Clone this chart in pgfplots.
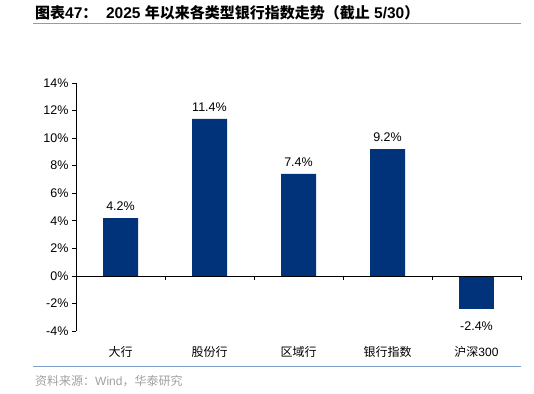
\documentclass[border=0pt]{standalone}
\usepackage{pgfplots}
\pgfplotsset{compat=1.18}
\usepackage{fontspec}
\setmainfont{Liberation Sans}
\newfontfamily\cjk{Noto Sans CJK SC}
\definecolor{barblue}{RGB}{0,51,122}
\definecolor{lineblue}{RGB}{125,160,205}
\definecolor{srcgray}{RGB}{160,160,160}
\begin{document}
\begin{tikzpicture}
\useasboundingbox (0,0) rectangle (534pt,-393pt);
\node[anchor=base west, inner sep=0, font=\fontsize{15.5}{18}\selectfont\bfseries] at (35pt,-19pt) {{\cjk\fontsize{15}{18}\selectfont 图表}47{\cjk\fontsize{15}{18}\selectfont ：}\ \ 2025 {\cjk\fontsize{15}{18}\selectfont 年以来各类型银行指数走势（截止} 5/30{\cjk\fontsize{15}{18}\selectfont ）}};
\draw[lineblue, line width=1pt] (33pt,-24pt) -- (521pt,-24pt);
\draw[lineblue, line width=1pt] (33pt,-366pt) -- (521pt,-366pt);
\node[anchor=base west, inner sep=0, font=\fontsize{12}{14}\selectfont, text=srcgray] at (35pt,-385pt) {{\cjk 资料来源：}Wind{\cjk ，华泰研究}};
\begin{axis}[
  at={(76pt,-331pt)}, anchor=south west, scale only axis,
  width=445pt, height=248pt,
  xmin=-0.5, xmax=4.5, ymin=-4, ymax=14,
  axis line style={draw=none},
  ytick={-4,-2,0,2,4,6,8,10,12,14},
  yticklabels={-4\%,-2\%,0\%,2\%,4\%,6\%,8\%,10\%,12\%,14\%},
  ytick pos=left, tick align=outside, major tick length=4pt,
  ytick style={black, line width=0.6pt},
  xtick={0,1,2,3,4},
  xticklabels={{\cjk 大行},{\cjk 股份行},{\cjk 区域行},{\cjk 银行指数},{\cjk 沪深}300},
  xtick pos=bottom, xtick style={draw=none},
  xticklabel style={font=\fontsize{12}{14}\selectfont, yshift=-8pt},
  yticklabel style={font=\fontsize{12.5}{14}\selectfont},
  /pgf/number format/assume math mode=true,
  clip=false,
]
\addplot[ybar, bar width=35pt, fill=barblue, draw=none,
  nodes near coords={\pgfmathprintnumber[fixed,fixed zerofill,precision=1]{\pgfplotspointmeta}\%},
  nodes near coords align=vertical,
  every node near coord/.append style={font=\fontsize{12.5}{14}\selectfont, black, inner sep=7pt}]
  coordinates {(0,4.2) (1,11.4) (2,7.4) (3,9.2)};
\addplot[ybar, bar width=35pt, fill=barblue, draw=none,
  nodes near coords={\pgfmathprintnumber[fixed,fixed zerofill,precision=1]{\pgfplotspointmeta}\%},
  nodes near coords align=vertical,
  every node near coord/.append style={font=\fontsize{12.5}{14}\selectfont, black, inner sep=7pt, yshift=-6pt}]
  coordinates {(4,-2.4)};
\draw[black, line width=0.6pt] (rel axis cs:0,0) -- (rel axis cs:0,1);
\draw[black, line width=0.6pt] (axis cs:-0.5,0) -- (axis cs:4.5,0);
\draw[black, line width=0.6pt] (axis cs:0.5,0) -- ([yshift=-4pt]axis cs:0.5,0);
\draw[black, line width=0.6pt] (axis cs:1.5,0) -- ([yshift=-4pt]axis cs:1.5,0);
\draw[black, line width=0.6pt] (axis cs:2.5,0) -- ([yshift=-4pt]axis cs:2.5,0);
\draw[black, line width=0.6pt] (axis cs:3.5,0) -- ([yshift=-4pt]axis cs:3.5,0);
\draw[black, line width=0.6pt] (axis cs:4.5,0) -- ([yshift=-4pt]axis cs:4.5,0);
\end{axis}
\end{tikzpicture}
\end{document}
